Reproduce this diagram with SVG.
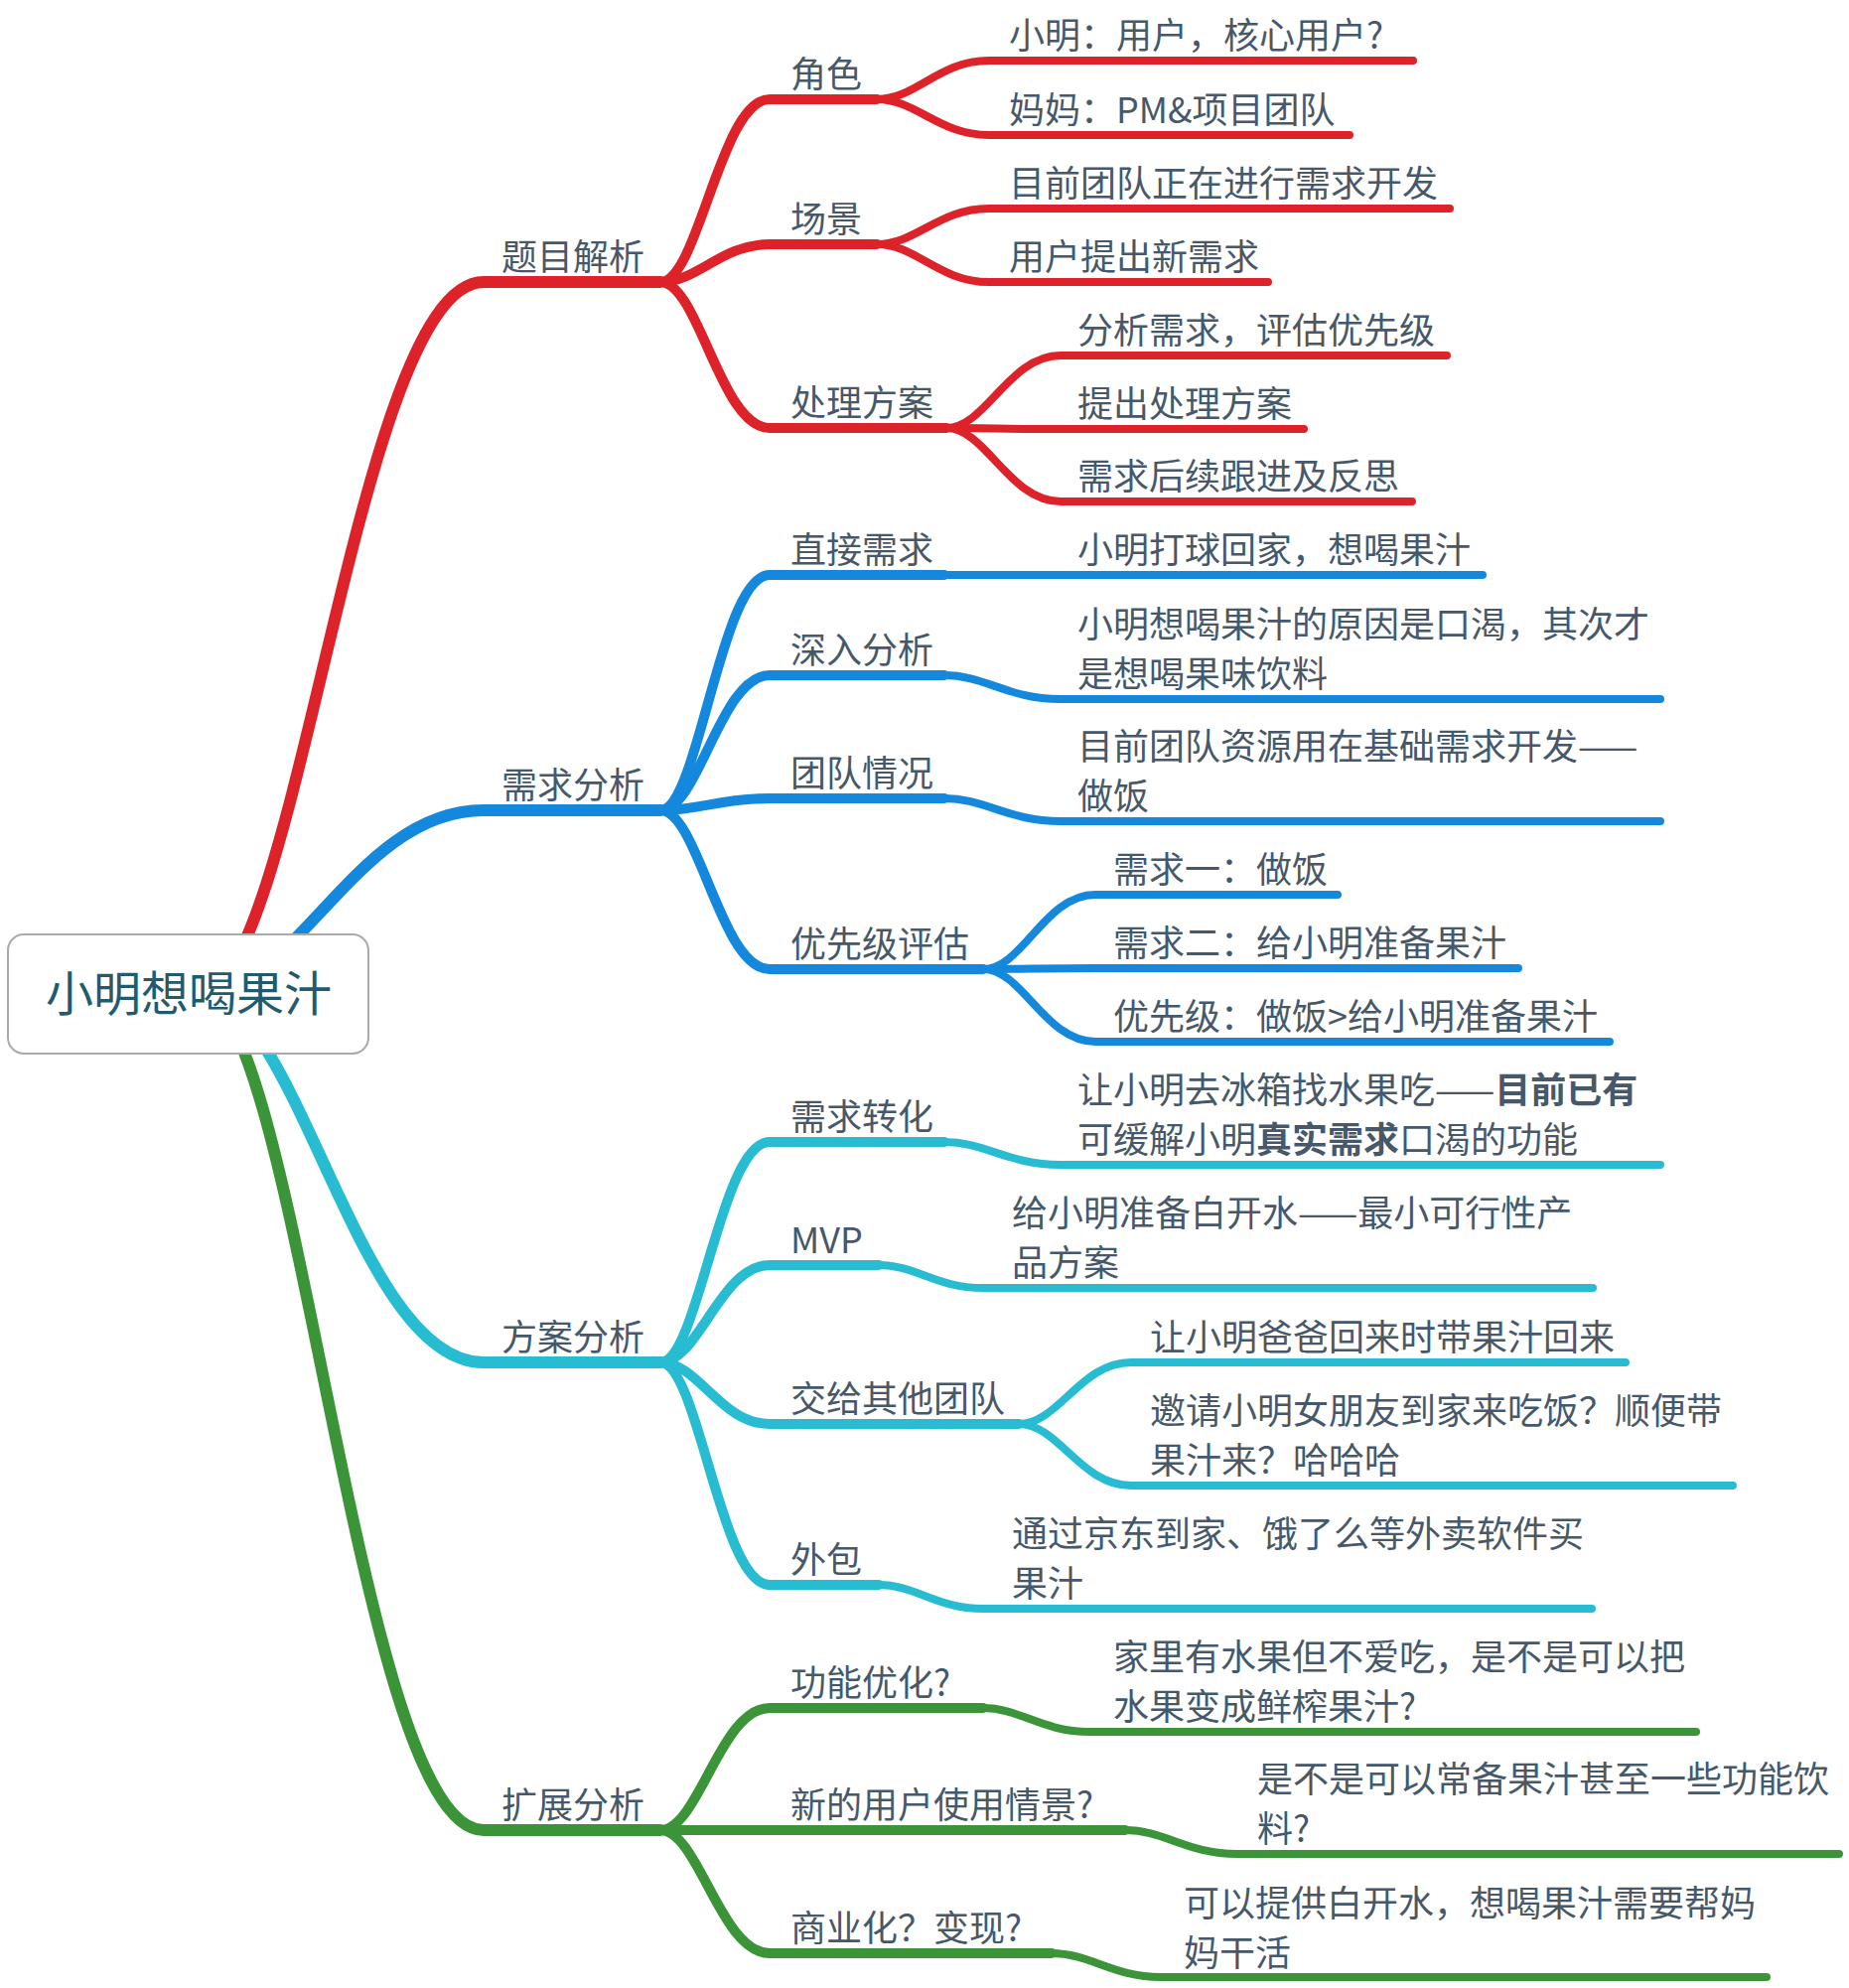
<svg xmlns="http://www.w3.org/2000/svg" width="1862" height="2002" viewBox="0 0 1862 2002">
<style>
.ln{fill:none;stroke-linecap:round;stroke-linejoin:round}
.r{stroke:#dd2229}.b{stroke:#1488dc}.c{stroke:#28bcd3}.g{stroke:#3b9538}
.w1{stroke-width:12}.w2{stroke-width:10}.w3{stroke-width:8}
text{font-family:"Noto Sans CJK SC","Noto Sans",sans-serif;font-size:36px;fill:#465869}
.root{font-size:48px;fill:#225b6e;text-anchor:middle}
</style>
<rect width="1862" height="2002" fill="#ffffff"/>
<g id="connectors">
<path class="ln r w1" d="M200 1000 C300 1000 358 284 487 284 L665 284"/>
<path class="ln b w1" d="M200 1000 C300 1000 358 816 487 816 L665 816"/>
<path class="ln c w1" d="M200 1000 C300 1000 358 1372 487 1372 L665 1372"/>
<path class="ln g w1" d="M200 1000 C300 1000 358 1843 487 1843 L665 1843"/>

<path class="ln r w2" d="M665 284 C703.5 284 725.5 100 775 100 L883 100"/>
<path class="ln r w2" d="M665 284 C703.5 284 725.5 246 775 246 L883 246"/>
<path class="ln r w2" d="M665 284 C703.5 284 725.5 431 775 431 L953 431"/>
<path class="ln r w3" d="M883 100 C923 100 945 61 996 61 L1423 61"/>
<path class="ln r w3" d="M883 100 C923 100 945 136 996 136 L1359 136"/>
<path class="ln r w3" d="M883 246 C923 246 945 210 996 210 L1460 210"/>
<path class="ln r w3" d="M883 246 C923 246 945 284 996 284 L1277 284"/>
<path class="ln r w3" d="M953 431 C993 431 1016 358 1068 358 L1457 358"/>
<path class="ln r w3" d="M953 431 C993 431 1016 432 1068 432 L1313 432"/>
<path class="ln r w3" d="M953 431 C993 431 1016 505 1068 505 L1422 505"/>

<path class="ln b w2" d="M665 816 C703.5 816 725.5 579 775 579 L951 579"/>
<path class="ln b w2" d="M665 816 C703.5 816 725.5 680 775 680 L951 680"/>
<path class="ln b w2" d="M665 816 C703.5 816 725.5 804 775 804 L951 804"/>
<path class="ln b w2" d="M665 816 C703.5 816 725.5 976 775 976 L990 976"/>
<path class="ln b w3" d="M951 579 L1493 579"/>
<path class="ln b w3" d="M951 680 C992 680 1015 704 1068 704 L1672 704"/>
<path class="ln b w3" d="M951 804 C992 804 1015 827 1068 827 L1672 827"/>
<path class="ln b w3" d="M990 976 C1030 976 1052 901 1103 901 L1347 901"/>
<path class="ln b w3" d="M990 976 C1030 976 1052 975 1103 975 L1529 975"/>
<path class="ln b w3" d="M990 976 C1030 976 1052 1049 1103 1049 L1621 1049"/>

<path class="ln c w2" d="M665 1372 C703.5 1372 725.5 1150 775 1150 L951 1150"/>
<path class="ln c w2" d="M665 1372 C703.5 1372 725.5 1274 775 1274 L885 1274"/>
<path class="ln c w2" d="M665 1372 C703.5 1372 725.5 1434 775 1434 L1026 1434"/>
<path class="ln c w2" d="M665 1372 C703.5 1372 725.5 1596 775 1596 L885 1596"/>
<path class="ln c w3" d="M951 1150 C992 1150 1015 1173 1068 1173 L1672 1173"/>
<path class="ln c w3" d="M885 1274 C922 1274 943 1297 990 1297 L1604 1297"/>
<path class="ln c w3" d="M1026 1434 C1066 1434 1088 1372 1139 1372 L1637 1372"/>
<path class="ln c w3" d="M1026 1434 C1066 1434 1088 1496 1139 1496 L1745 1496"/>
<path class="ln c w3" d="M885 1596 C922 1596 943 1620 990 1620 L1603 1620"/>

<path class="ln g w2" d="M665 1843 C703.5 1843 725.5 1720 775 1720 L990 1720"/>
<path class="ln g w2" d="M665 1843 L1133 1843"/>
<path class="ln g w2" d="M665 1843 C703.5 1843 725.5 1967 775 1967 L1059 1967"/>
<path class="ln g w3" d="M990 1720 C1027 1720 1049 1744 1097 1744 L1708 1744"/>
<path class="ln g w3" d="M1133 1843 C1173 1843 1195 1867 1246 1867 L1852 1867"/>
<path class="ln g w3" d="M1059 1967 C1098 1967 1120 1991 1169 1991 L1779 1991"/>
</g>

<g id="root">
<rect x="8" y="941" width="363" height="120" rx="16" fill="#ffffff" stroke="#aaaaaa" stroke-width="2"/>
<text class="root" x="190" y="1018">小明想喝果汁</text>
</g>

<g id="n-timujiexi"><text x="505" y="272">题目解析</text></g>
<g id="n-xuqiufenxi"><text x="505" y="804">需求分析</text></g>
<g id="n-fanganfenxi"><text x="505" y="1360">方案分析</text></g>
<g id="n-kuozhanfenxi"><text x="505" y="1831">扩展分析</text></g>

<g id="n-juese"><text x="796" y="88">角色</text></g>
<g id="n-changjing"><text x="796" y="234">场景</text></g>
<g id="n-chulifangan"><text x="796" y="419">处理方案</text></g>
<g id="n-zhijiexuqiu"><text x="796" y="567">直接需求</text></g>
<g id="n-shenrufenxi"><text x="796" y="668">深入分析</text></g>
<g id="n-tuanduiqingkuang"><text x="796" y="792">团队情况</text></g>
<g id="n-youxianji"><text x="796" y="964">优先级评估</text></g>
<g id="n-xuqiuzhuanhua"><text x="796" y="1138">需求转化</text></g>
<g id="n-mvp"><text x="796" y="1262">MVP</text></g>
<g id="n-jiaogei"><text x="796" y="1422">交给其他团队</text></g>
<g id="n-waibao"><text x="796" y="1584">外包</text></g>
<g id="n-gongneng"><text x="796" y="1708">功能优化?</text></g>
<g id="n-xinde"><text x="796" y="1831">新的用户使用情景?</text></g>
<g id="n-shangye"><text x="796" y="1955">商业化？变现?</text></g>

<g id="l-1"><text x="1016" y="49">小明：用户，核心用户?</text></g>
<g id="l-2"><text x="1016" y="124">妈妈：PM&amp;项目团队</text></g>
<g id="l-3"><text x="1016" y="198">目前团队正在进行需求开发</text></g>
<g id="l-4"><text x="1016" y="272">用户提出新需求</text></g>
<g id="l-5"><text x="1085" y="346">分析需求，评估优先级</text></g>
<g id="l-6"><text x="1085" y="420">提出处理方案</text></g>
<g id="l-7"><text x="1085" y="493">需求后续跟进及反思</text></g>
<g id="l-8"><text x="1085" y="567">小明打球回家，想喝果汁</text></g>
<g id="l-9"><text x="1085" y="642">小明想喝果汁的原因是口渴，其次才</text><text x="1085" y="692">是想喝果味饮料</text></g>
<g id="l-10"><text x="1085" y="765">目前团队资源用在基础需求开发——</text><text x="1085" y="815">做饭</text></g>
<g id="l-11"><text x="1121" y="889">需求一：做饭</text></g>
<g id="l-12"><text x="1121" y="963">需求二：给小明准备果汁</text></g>
<g id="l-13"><text x="1121" y="1037">优先级：做饭&gt;给小明准备果汁</text></g>
<g id="l-14"><text x="1085" y="1111">让小明去冰箱找水果吃——<tspan font-weight="bold">目前已有</tspan></text><text x="1085" y="1161">可缓解小明<tspan font-weight="bold">真实需求</tspan>口渴的功能</text></g>
<g id="l-15"><text x="1019" y="1235">给小明准备白开水——最小可行性产</text><text x="1019" y="1285">品方案</text></g>
<g id="l-16"><text x="1158" y="1360">让小明爸爸回来时带果汁回来</text></g>
<g id="l-17"><text x="1158" y="1434">邀请小明女朋友到家来吃饭？顺便带</text><text x="1158" y="1484">果汁来？哈哈哈</text></g>
<g id="l-18"><text x="1019" y="1558">通过京东到家、饿了么等外卖软件买</text><text x="1019" y="1608">果汁</text></g>
<g id="l-19"><text x="1121" y="1682">家里有水果但不爱吃，是不是可以把</text><text x="1121" y="1732">水果变成鲜榨果汁?</text></g>
<g id="l-20"><text x="1266" y="1805">是不是可以常备果汁甚至一些功能饮</text><text x="1266" y="1855">料?</text></g>
<g id="l-21"><text x="1192" y="1930">可以提供白开水，想喝果汁需要帮妈</text><text x="1192" y="1980">妈干活</text></g>
</svg>
